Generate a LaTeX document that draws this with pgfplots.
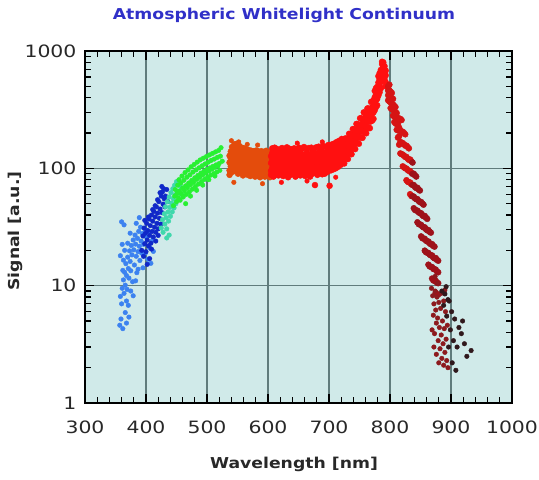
\documentclass[border=0pt]{standalone}
\usepackage{fontspec}
\setmainfont{DejaVu Sans}
\newfontfamily\tickfont{DejaVu Sans}[FakeStretch=1.2]
\newfontfamily\labfont{DejaVu Sans}[FakeStretch=1.15]
\usepackage{pgfplots}
\usepackage{pgfplotstable}
\pgfplotsset{compat=1.18}

\definecolor{bgc}{RGB}{208,234,233}
\definecolor{gridc}{RGB}{96,124,124}
\definecolor{titlec}{RGB}{48,48,200}
\definecolor{tickc}{RGB}{40,40,40}
\definecolor{lblue}{RGB}{60,130,240}
\definecolor{dblue}{RGB}{16,40,200}
\definecolor{teal2}{RGB}{64,216,172}
\definecolor{green2}{RGB}{40,240,50}
\definecolor{orange2}{RGB}{228,76,12}
\definecolor{red1}{RGB}{255,16,16}
\definecolor{red2}{RGB}{214,20,20}
\definecolor{dred}{RGB}{158,18,26}
\definecolor{ddred}{RGB}{140,26,30}
\definecolor{blk}{RGB}{48,24,28}

\pgfplotsset{
  dot/.style={only marks, mark=*, mark size=2.3pt, color=#1, mark options={draw=none, fill=#1}},
  bigdot/.style={only marks, mark=*, mark size=3pt, color=#1, mark options={draw=none, fill=#1}},
}

\begin{document}

% dense bands: one row per wavelength, four readings per row
\pgfplotstableread{
l a b c d
537 96 112 128 88
539 104 121 139 92
541 99 116 133 152
543 107 125 146 94
545 101 119 137 160
547 110 128 149 95
549 97 115 134 162
551 106 124 143 90
553 100 118 138 155
555 108 127 147 93
557 98 114 131 150
559 103 122 140 87
561 95 111 129 148
563 105 120 137 91
565 99 113 130 145
567 102 119 135 88
569 94 110 126 143
571 104 117 134 86
573 97 112 128 141
575 101 118 133 89
577 93 109 125 140
579 103 115 131 85
581 96 111 127 142
583 100 116 132 88
585 92 108 124 139
587 102 114 129 84
589 95 110 126 140
591 99 115 131 87
593 93 107 123 138
595 101 113 128 85
597 94 109 125 141
599 98 114 130 86
601 92 106 122 137
603 100 112 127 84
}\orangetab

\pgfplotstableread{
l a b c d
605 95 111 127 88
607 101 118 135 148
609 93 109 124 85
611 99 115 131 150
613 104 120 138 90
615 96 112 128 146
617 102 117 134 87
619 94 110 125 144
621 100 116 132 91
623 97 113 129 149
625 103 119 136 86
627 95 111 126 143
629 101 116 133 89
631 98 114 130 151
633 94 109 124 84
635 102 118 135 147
637 96 112 127 88
639 100 115 132 145
641 93 108 123 90
643 99 114 129 148
645 104 120 137 85
647 96 111 126 144
649 101 117 134 89
651 97 113 128 150
653 103 119 136 87
655 95 110 125 146
657 100 116 131 91
659 98 114 129 152
661 94 109 124 86
663 102 118 134 147
665 97 112 127 89
667 101 117 132 149
669 95 111 126 85
671 99 115 130 150
673 104 121 137 90
675 96 113 128 146
677 102 118 134 72
679 98 114 129 151
681 95 111 126 88
683 103 119 136 153
685 99 115 131 91
687 97 113 128 149
689 104 121 138 89
691 100 116 132 155
693 96 112 127 90
695 103 120 137 152
697 99 115 131 93
699 106 123 140 158
701 101 118 134 71
703 108 125 143 96
705 103 119 137 160
707 110 127 146 98
709 105 122 140 163
711 113 131 150 100
713 108 126 144 168
715 116 135 155 103
717 112 130 149 172
719 120 140 160 107
721 118 137 158 178
723 113 130 146 165
725 110 126 142 159
727 124 141 159 180
729 123 140 158 178
731 120 137 155 173
733 135 153 174 197
735 134 154 173 195
737 132 150 170 190
739 148 168 190 216
741 148 169 190 215
743 146 166 187 209
745 164 186 211 239
747 164 187 211 238
749 162 184 208 232
751 183 208 235 267
753 184 210 237 267
755 182 207 235 262
757 205 234 264 300
759 204 233 262 296
761 199 227 256 286
763 222 252 286 324
765 223 254 286 323
767 220 250 283 316
769 252 287 325 368
771 256 293 329 372
773 264 300 340 380
775 313 356 403 457
777 332 379 427 482
779 344 391 443 495
781 418 475 538 610
783 445 509 572 647
785 480 546 618 690
787 600 683 773 810
789 655 749 800 760
791 576 655 742 700
793 540 620 680 500
}\redtab

\pgfplotstableread{
l a b c d
797 420 460 500 380
799 371 415 463 516
801 326 366 406 450
803 319 356 396 439
805 281 314 351 391
807 248 278 308 341
809 242 270 300 333
811 213 238 266 296
813 183 211 238 270
815 159 188 222 261
817 134 168 210 264
819 132 165 205 258
821 104 131 164 205
823 102 128 160 200
825 100 125 156 195
827 79.2 99.6 125 156
829 77 96.8 121 152
831 76 95 118 148
833 60.2 75.7 94.8 119
835 58.2 73.2 91.5 115
}\fallAtab

\pgfplotstableread{
l a b c d
837 57.7 72.1 89.6 112
839 45.7 57.4 72.0 90.0
841 44.2 55.5 69.4 87.1
843 43.7 54.6 67.9 85.1
845 34.7 43.6 54.6 68.3
847 33.5 42.2 52.7 66.1
849 33.2 41.5 51.6 64.7
851 26.3 33.0 41.4 51.7
853 25.4 31.9 39.9 50.1
855 25.2 31.4 39.1 49.0
857 19.9 25.1 31.4 39.3
859 19.3 24.2 30.3 38.0
861 19.1 23.8 29.6 37.1
863 15.1 19.0 23.8 29.8
865 14.6 18.4 23.0 28.8
867 14.5 18.1 22.5 28.3
869 11.5 14.4 18.1 22.6
871 11.1 13.9 17.4 21.8
873 11.0 13.8 17.1 21.5
875 8.7 11.0 13.7 17.2
877 8.4 10.6 13.2 16.6
879 8.4 10.5 13.0 16.3
}\fallBtab

\begin{tikzpicture}
\path[use as bounding box] (-85pt,-77pt) rectangle (454pt,403pt);
\begin{axis}[
  scale only axis, width=427pt, height=352pt,
  xmin=300, xmax=1000, ymin=1, ymax=1000, ymode=log,
  xtick={300,400,...,1000}, xticklabels={300,400,500,600,700,800,900,1000},
  ytick={1,10,100,1000}, yticklabels={1,10,100,1000},
  minor x tick num=4,
  minor ytick={2,3,4,5,6,7,8,9,20,30,40,50,60,70,80,90,200,300,400,500,600,700,800,900},
  tick align=inside,
  major tick length=9pt, minor tick length=6pt,
  tick style={black, line width=1.3pt},
  axis line style={line width=1.6pt},
  axis background/.style={fill=bgc},
  ticklabel style={font=\tickfont\fontsize{17}{20}\selectfont, text=tickc},
  xticklabel style={yshift=-14pt},
  yticklabel style={xshift=-5pt},
]
% grid lines at the major ticks
\draw[gridc, line width=1.1pt] (axis cs:400,1) -- (axis cs:400,1000);
\draw[gridc, line width=1.1pt] (axis cs:500,1) -- (axis cs:500,1000);
\draw[gridc, line width=1.1pt] (axis cs:600,1) -- (axis cs:600,1000);
\draw[gridc, line width=1.1pt] (axis cs:700,1) -- (axis cs:700,1000);
\draw[gridc, line width=1.1pt] (axis cs:800,1) -- (axis cs:800,1000);
\draw[gridc, line width=1.1pt] (axis cs:900,1) -- (axis cs:900,1000);
\draw[gridc, line width=1.1pt] (axis cs:300,10) -- (axis cs:1000,10);
\draw[gridc, line width=1.1pt] (axis cs:300,100) -- (axis cs:1000,100);
% light blue
\addplot[dot=lblue] coordinates {
(357,4.6) (359,5.2) (362,4.3) (366,5.9) (368,4.8) (372,5.4) (358,8.1) (360,7.0)
(361,9.5) (363,11.2) (364,8.6) (365,13.0) (366,10.1) (367,15.4) (368,12.2) (369,9.3)
(370,17.5) (371,14.0) (372,11.6) (373,19.8) (374,16.1) (375,13.4) (376,22.0) (377,18.3)
(378,10.8) (379,24.5) (380,20.2) (381,15.0) (382,27.0) (383,22.6) (384,17.8) (385,12.9)
(386,25.3) (387,19.5) (388,29.0) (389,21.7) (390,16.4) (391,31.5) (392,24.0) (393,18.9)
(394,27.8) (395,14.2) (396,22.5) (398,30.5) (399,19.0) (401,25.8) (403,16.8) (405,28.5)
(406,21.0) (408,15.5) (410,24.2) (412,19.6) (360,35.0) (364,33.0) (368,7.4) (371,6.8)
(375,9.0) (379,8.2) (383,11.0) (387,13.8) (358,18.0) (361,22.5) (363,16.5) (365,20.0)
(362,13.5) (370,23.0) (374,28.0) (384,34.0) (389,38.0)
};
% dark blue
\addplot[dot=dblue] coordinates {
(393,20.0) (395,26.5) (396,17.8) (397,31.0) (398,22.8) (399,28.0) (400,19.5) (401,34.0)
(402,24.5) (403,29.5) (404,21.8) (405,37.0) (406,26.8) (407,32.5) (408,23.0) (409,40.0)
(410,29.0) (411,35.5) (412,26.0) (413,43.0) (414,31.5) (415,38.5) (416,28.5) (417,47.0)
(418,34.0) (419,41.5) (420,30.5) (421,52.0) (422,37.5) (423,45.0) (424,33.5) (425,58.0)
(426,42.0) (427,63.0) (428,49.5) (429,67.0) (430,55.0) (426,70.0) (423,62.0) (419,54.0)
(415,48.0) (411,44.5) (404,38.5) (398,36.0) (406,17.0) (402,15.2) (409,20.5) (416,24.0)
(420,26.8) (432,58.0) (434,66.0) (436,52.0) (431,47.0)
};
% teal
\addplot[dot=teal2] coordinates {
(425,31.0) (427,36.5) (428,28.5) (430,41.0) (431,33.5) (432,47.0) (433,38.0) (434,30.5)
(435,52.0) (436,42.5) (437,35.5) (438,57.0) (439,46.5) (440,39.0) (441,62.0) (442,50.5)
(443,42.5) (444,67.0) (445,55.0) (446,46.0) (447,72.0) (448,59.5) (449,50.0) (450,77.0)
(452,63.5) (454,54.0) (456,70.0) (458,60.0) (434,25.5) (438,27.0)
};
% green
\addplot[dot=green2] coordinates {
(445,48.0) (447,58.0) (448,66.0) (450,52.0) (451,61.0) (452,72.0) (453,56.0) (454,80.0)
(455,64.0) (456,53.5) (457,75.0) (458,60.5) (459,86.0) (460,68.0) (461,57.0) (462,79.0)
(463,64.5) (464,92.0) (465,71.0) (466,60.0) (467,84.0) (468,68.5) (469,97.0) (470,75.0)
(471,63.0) (472,88.0) (473,72.5) (474,103.0) (475,79.0) (476,66.5) (477,93.0) (478,76.0)
(479,108.0) (480,83.0) (481,70.0) (482,97.0) (483,80.5) (484,113.0) (485,87.0) (486,73.5)
(487,101.0) (488,84.0) (489,118.0) (490,91.0) (491,77.0) (492,105.0) (493,88.0) (494,122.0)
(495,94.5) (496,80.5) (497,109.0) (498,91.5) (499,126.0) (500,98.0) (501,84.0) (502,113.0)
(503,95.0) (504,130.0) (505,101.0) (506,87.5) (507,117.0) (508,98.5) (509,134.0) (510,104.0)
(511,90.0) (512,120.0) (513,102.0) (514,138.0) (515,107.0) (516,93.0) (517,124.0) (518,105.0)
(519,142.0) (520,110.0) (521,96.0) (522,127.0) (523,150.0) (525,115.0) (473,58.0) (483,65.0)
(493,72.0) (503,80.0) (513,86.0) (465,50.0)
};
% orange plateau
\addplot[bigdot=orange2] table[x=l, y=a] {\orangetab};
\addplot[bigdot=orange2] table[x=l, y=b] {\orangetab};
\addplot[bigdot=orange2] table[x=l, y=c] {\orangetab};
\addplot[bigdot=orange2] table[x=l, y=d] {\orangetab};
\addplot[dot=orange2] coordinates {(540,172) (544,76) (552,168) (566,160) (583,158) (591,74)};
% red plateau and rise to the peak
\addplot[bigdot=red1] table[x=l, y=a] {\redtab};
\addplot[bigdot=red1] table[x=l, y=b] {\redtab};
\addplot[bigdot=red1] table[x=l, y=c] {\redtab};
\addplot[bigdot=red1] table[x=l, y=d] {\redtab};
\addplot[dot=red1] coordinates {(622,76) (648,164) (664,78) (689,168) (711,84)};
% falling edge
\addplot[bigdot=red2] table[x=l, y=a] {\fallAtab};
\addplot[bigdot=red2] table[x=l, y=b] {\fallAtab};
\addplot[bigdot=red2] table[x=l, y=c] {\fallAtab};
\addplot[bigdot=red2] table[x=l, y=d] {\fallAtab};
\addplot[bigdot=dred] table[x=l, y=a] {\fallBtab};
\addplot[bigdot=dred] table[x=l, y=b] {\fallBtab};
\addplot[bigdot=dred] table[x=l, y=c] {\fallBtab};
\addplot[bigdot=dred] table[x=l, y=d] {\fallBtab};
% scattered tail
\addplot[dot=ddred] coordinates {
(868,9.5) (870,8.2) (872,7.0) (871,5.6) (874,9.0) (875,6.2) (876,4.8) (873,3.9)
(877,8.0) (878,5.3) (879,3.4) (880,7.2) (881,4.4) (882,2.9) (883,6.4) (884,3.8)
(885,2.4) (886,5.0) (887,3.2) (888,2.1) (889,4.3) (890,2.7) (891,6.0) (892,3.5)
(893,2.3) (894,4.6) (895,2.0) (869,4.2) (872,3.0) (876,2.6) (880,2.2) (884,8.6)
(888,7.4) (890,9.2) (878,10.5) (874,12.0)
};
\addplot[dot=blk] coordinates {
(885,9.0) (888,6.8) (890,8.5) (893,5.5) (895,7.6) (897,7.4) (899,4.2) (901,6.0)
(902,2.2) (904,3.4) (906,5.2) (908,1.9) (910,3.0) (913,4.4) (917,3.9) (919,5.0)
(922,3.2) (926,2.5) (933,2.8) (896,3.0) (892,9.8)
};
% tick marks on all four sides, both ends given in axis units
\pgfplotsinvokeforeach{400,500,600,700,800,900}{
  \draw[black, line width=1.3pt] (axis cs:#1,1) -- (axis cs:#1,1.19);
  \draw[black, line width=1.3pt] (axis cs:#1,1000) -- (axis cs:#1,840);
}
\pgfplotsinvokeforeach{10,100}{
  \draw[black, line width=1.3pt] (axis cs:300,#1) -- (axis cs:315,#1);
  \draw[black, line width=1.3pt] (axis cs:1000,#1) -- (axis cs:985,#1);
}
\pgfplotsinvokeforeach{320,340,360,380,420,440,460,480,520,540,560,580,620,640,660,680,720,740,760,780,820,840,860,880,920,940,960,980}{
  \draw[black, line width=1.3pt] (axis cs:#1,1) -- (axis cs:#1,1.12);
  \draw[black, line width=1.3pt] (axis cs:#1,1000) -- (axis cs:#1,893);
}
\pgfplotsinvokeforeach{2,3,4,5,6,7,8,9,20,30,40,50,60,70,80,90,200,300,400,500,600,700,800,900}{
  \draw[black, line width=1.3pt] (axis cs:300,#1) -- (axis cs:310,#1);
  \draw[black, line width=1.3pt] (axis cs:1000,#1) -- (axis cs:990,#1);
}
\end{axis}
\node[font=\labfont\bfseries\fontsize{15}{18}\selectfont, text=titlec, anchor=base] at (199pt,383pt) {Atmospheric Whitelight Continuum};
\node[font=\labfont\bfseries\fontsize{15}{18}\selectfont, text=tickc, anchor=base] at (209pt,-65pt) {Wavelength [nm]};
\node[font=\labfont\bfseries\fontsize{15}{18}\selectfont, text=tickc, anchor=base, rotate=90] at (-65pt,172pt) {Signal [a.u.]};
\end{tikzpicture}
\end{document}
